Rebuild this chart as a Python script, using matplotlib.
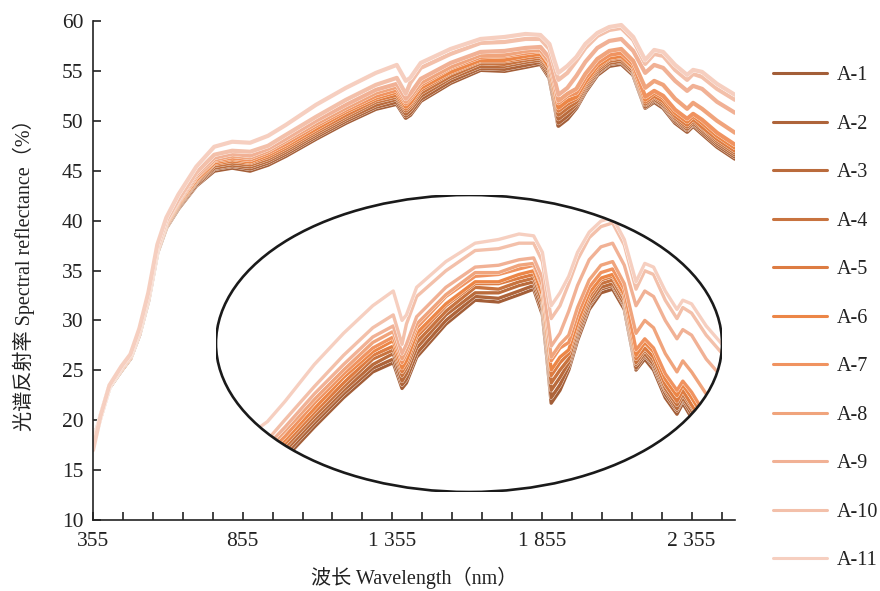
import matplotlib
matplotlib.use("Agg")
import matplotlib.pyplot as plt
from matplotlib.patches import Ellipse
from matplotlib.ticker import FixedLocator, FuncFormatter
import matplotlib.patheffects as pe

wavelength = [355, 380, 410, 450, 480, 510, 540, 570, 600, 640, 700, 760, 820, 880, 940, 1000,
              1100, 1200, 1300, 1370, 1400, 1415, 1450, 1550, 1650, 1730, 1800, 1850, 1880, 1895,
              1910, 1940, 1970, 2000, 2040, 2080, 2120, 2160, 2200, 2230, 2260, 2300, 2340, 2360,
              2390, 2440, 2500]

A1 = [17.9, 20.3, 23.3, 25.0, 26.2, 28.6, 32.0, 36.8, 39.3, 41.2, 43.5, 45.0, 45.3, 45.0, 45.6, 46.5,
      48.2, 49.8, 51.2, 51.7, 50.3, 50.6, 52.0, 53.8, 55.1, 55.0, 55.4, 55.7, 54.3, 52.0,
      49.5, 50.2, 51.3, 52.9, 54.6, 55.5, 55.7, 54.6, 51.3, 51.9, 51.3, 49.8, 48.9, 49.5,
      48.7, 47.4, 46.2]
A2 = [17.8, 20.3, 23.3, 25.0, 26.2, 28.6, 32.1, 36.9, 39.4, 41.3, 43.6, 45.2, 45.5, 45.2, 45.8, 46.7,
      48.4, 50.0, 51.4, 51.9, 50.5, 50.8, 52.2, 54.0, 55.3, 55.2, 55.6, 55.9, 54.5, 52.3,
      49.8, 50.5, 51.5, 53.1, 54.8, 55.7, 55.9, 54.8, 51.4, 52.1, 51.5, 50.0, 49.1, 49.7,
      48.9, 47.6, 46.4]
A3 = [17.8, 20.3, 23.3, 25.1, 26.3, 28.7, 32.1, 36.9, 39.4, 41.4, 43.8, 45.3, 45.6, 45.4, 46.0, 46.9,
      48.6, 50.2, 51.6, 52.2, 50.7, 51.1, 52.5, 54.3, 55.5, 55.5, 55.9, 56.1, 54.8, 52.6,
      50.2, 50.9, 51.7, 53.3, 54.9, 55.8, 56.0, 54.9, 51.6, 52.2, 51.6, 50.2, 49.2, 49.8,
      49.1, 47.8, 46.6]
A4 = [17.7, 20.3, 23.3, 25.1, 26.3, 28.7, 32.2, 37.0, 39.5, 41.5, 43.9, 45.5, 45.8, 45.6, 46.2, 47.1,
      48.8, 50.4, 51.9, 52.4, 51.0, 51.4, 52.8, 54.5, 55.8, 55.7, 56.1, 56.3, 55.0, 52.9,
      50.6, 51.3, 51.9, 53.5, 55.1, 56.0, 56.2, 55.1, 51.7, 52.4, 51.8, 50.3, 49.4, 50.0,
      49.3, 48.0, 46.8]
A5 = [17.7, 20.3, 23.4, 25.1, 26.3, 28.8, 32.2, 37.0, 39.6, 41.6, 44.0, 45.7, 46.0, 45.8, 46.4, 47.3,
      49.0, 50.6, 52.1, 52.6, 51.2, 51.6, 53.1, 54.8, 56.0, 56.0, 56.3, 56.5, 55.3, 53.2,
      51.0, 51.7, 52.2, 53.7, 55.3, 56.2, 56.4, 55.3, 51.9, 52.5, 52.0, 50.5, 49.6, 50.2,
      49.4, 48.2, 47.0]
A6 = [17.6, 20.3, 23.4, 25.1, 26.3, 28.8, 32.3, 37.1, 39.6, 41.7, 44.1, 45.8, 46.2, 45.9, 46.6, 47.5,
      49.2, 50.9, 52.3, 52.9, 51.4, 51.8, 53.3, 54.9, 56.1, 56.1, 56.5, 56.7, 55.4, 53.4,
      51.3, 52.0, 52.4, 53.9, 55.5, 56.3, 56.5, 55.4, 52.1, 52.8, 52.3, 50.8, 49.9, 50.5,
      49.8, 48.5, 47.3]
A7 = [17.5, 20.3, 23.4, 25.2, 26.4, 28.8, 32.3, 37.1, 39.7, 41.8, 44.3, 46.0, 46.3, 46.1, 46.8, 47.7,
      49.5, 51.1, 52.5, 53.1, 51.7, 52.2, 53.6, 55.3, 56.4, 56.5, 56.8, 57.0, 55.8, 53.8,
      51.8, 52.5, 52.8, 54.3, 55.8, 56.6, 56.8, 55.7, 52.4, 53.0, 52.5, 51.1, 50.2, 50.7,
      50.1, 48.8, 47.6]
A8 = [17.5, 20.3, 23.4, 25.2, 26.4, 28.9, 32.4, 37.2, 39.8, 41.9, 44.4, 46.1, 46.5, 46.3, 47.0, 48.0,
      49.7, 51.3, 52.8, 53.4, 51.9, 52.4, 53.8, 55.4, 56.6, 56.6, 57.0, 57.1, 55.9, 54.0,
      52.0, 52.7, 53.2, 54.7, 56.2, 57.0, 57.2, 56.0, 53.3, 54.0, 53.6, 52.2, 51.2, 51.8,
      51.2, 50.0, 48.8]
A9 = [17.4, 20.4, 23.4, 25.2, 26.4, 28.9, 32.4, 37.2, 39.9, 42.0, 44.6, 46.3, 46.7, 46.5, 47.2, 48.2,
      50.0, 51.6, 53.1, 53.7, 52.2, 52.7, 54.2, 55.8, 56.9, 57.0, 57.3, 57.4, 56.3, 54.4,
      52.6, 53.3, 54.5, 55.9, 57.3, 58.0, 58.2, 57.0, 54.8, 55.6, 55.3, 54.0, 53.0, 53.5,
      53.2, 51.9, 50.8]
A10 = [17.3, 20.4, 23.4, 25.3, 26.5, 29.0, 32.5, 37.3, 40.0, 42.1, 44.8, 46.6, 47.0, 46.9, 47.5, 48.6,
       50.4, 52.1, 53.6, 54.3, 52.7, 53.8, 55.3, 56.7, 57.8, 57.9, 58.2, 58.2, 57.2, 55.6,
       54.1, 54.8, 56.0, 57.3, 58.5, 59.1, 59.3, 58.1, 55.7, 56.7, 56.5, 55.1, 54.1, 54.7,
       54.4, 53.2, 52.1]
A11 = [17.0, 20.4, 23.5, 25.4, 26.6, 29.2, 32.8, 37.6, 40.3, 42.6, 45.4, 47.4, 47.9, 47.8, 48.5, 49.6,
       51.6, 53.3, 54.8, 55.6, 54.0, 54.3, 55.8, 57.2, 58.2, 58.4, 58.7, 58.6, 57.7, 56.2,
       54.8, 55.5, 56.4, 57.7, 58.8, 59.4, 59.6, 58.4, 56.1, 57.1, 56.9, 55.6, 54.6, 55.1,
       54.9, 53.7, 52.6]

series_names = ["A-1", "A-2", "A-3", "A-4", "A-5", "A-6", "A-7", "A-8", "A-9", "A-10", "A-11"]
series_values = [A1, A2, A3, A4, A5, A6, A7, A8, A9, A10, A11]
colors = ["#a35e38", "#ae643a", "#ba6b3c", "#c8733f", "#dd7c42", "#ec8647",
          "#f09360", "#f0a47c", "#f1b195", "#f3c0aa", "#f6cfc0"]

y_ticks = [10, 15, 20, 25, 30, 35, 40, 45, 50, 55, 60]
x_ticks = list(range(355, 2500, 100))
x_label_ticks = [355, 855, 1355, 1855, 2355]

FONT = ["Liberation Serif", "Noto Sans CJK SC", "DejaVu Sans"]
plt.rcParams["font.family"] = FONT

W, H = 880, 591
fig = plt.figure(figsize=(W / 100, H / 100), dpi=100)

# main axes
ax = fig.add_axes([93 / W, 1 - 520 / H, (735 - 93) / W, (520 - 21) / H])
for name, vals, c in zip(series_names, series_values, colors):
    ax.plot(wavelength, vals, color=c, lw=3.0, label=name, solid_joinstyle="round",
            solid_capstyle="round",
            path_effects=[pe.Stroke(linewidth=3.4, foreground="white"), pe.Normal()])

ax.set_xlim(355, 2500)
ax.set_ylim(10, 60)
ax.spines["top"].set_visible(False)
ax.spines["right"].set_visible(False)
for s in ["left", "bottom"]:
    ax.spines[s].set_linewidth(1.2)
    ax.spines[s].set_color("#222222")
ax.xaxis.set_major_locator(FixedLocator(x_ticks))
ax.xaxis.set_major_formatter(FuncFormatter(
    lambda v, p: (f"{int(v):,}".replace(",", " ") if int(round(v)) in x_label_ticks else "")))
ax.set_yticks(y_ticks)
ax.tick_params(direction="in", length=6, width=1.2, color="#222222", labelsize=15.5,
               labelcolor="#222222")
ax.tick_params(axis="x", pad=9)
ax.tick_params(axis="y", pad=7)
ax.set_xlabel("波长 Wavelength（nm）", fontsize=14.5, color="#222222", labelpad=11)
ax.set_ylabel("光谱反射率 Spectral reflectance（%）", fontsize=14.5, color="#222222", labelpad=19)

leg = fig.legend(loc="upper left", bbox_to_anchor=(773 / W, 1 - 66 / H), frameon=False,
                 fontsize=14.5, handlelength=2.7, handletextpad=0.45, labelspacing=1.46,
                 borderpad=0, borderaxespad=0)
for line in leg.get_lines():
    line.set_linewidth(2.2)
    line.set_path_effects([])
for t in leg.get_texts():
    t.set_color("#222222")

# inset (vertically magnified view), clipped to ellipse
ax_in = fig.add_axes([216 / W, 1 - 492 / H, (722 - 216) / W, (492 - 195) / H])
ax_in.set_xlim(764, 2494)
ax_in.set_ylim(44.67, 60.82)
ax_in.axis("off")
ax_in.patch.set_alpha(0)
ell = Ellipse((0.5, 0.5), 1.0, 1.0, transform=ax_in.transAxes, facecolor="none",
              edgecolor="#1a1a1a", lw=1.9, zorder=5)
ax_in.add_patch(ell)
clip_ell = Ellipse((0.5, 0.5), 1.0, 1.0, transform=ax_in.transAxes, facecolor="none",
                   edgecolor="none")
ax_in.add_patch(clip_ell)
for vals, c in zip(series_values, colors):
    ln, = ax_in.plot(wavelength, vals, color=c, lw=2.4, solid_joinstyle="round",
                     path_effects=[pe.Stroke(linewidth=2.9, foreground="white"), pe.Normal()])
    ln.set_clip_path(clip_ell)

fig.savefig("out.png", dpi=100)
